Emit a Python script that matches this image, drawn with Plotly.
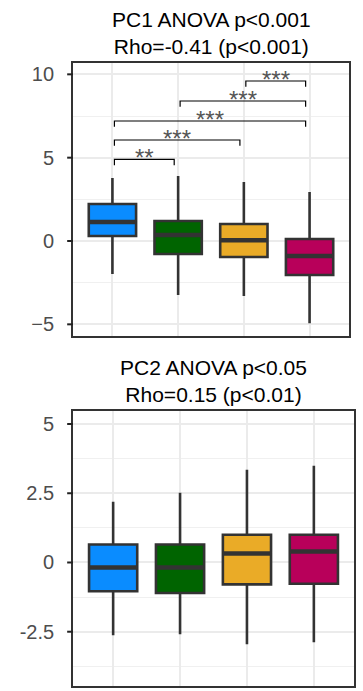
import plotly.graph_objects as go

W, H = 363, 691

groups = [1, 2, 3, 4]
colors = ["#0A8CFF", "#006400", "#EAAB27", "#B8005A"]

# PC1 box statistics
pc1_lower = [-1.98, -3.24, -3.30, -4.94]
pc1_q1 = [0.30, -0.78, -0.96, -2.04]
pc1_median = [1.14, 0.36, 0.04, -0.90]
pc1_q3 = [2.22, 1.20, 1.02, 0.12]
pc1_upper = [3.78, 3.90, 3.54, 2.94]

# PC2 box statistics
pc2_lower = [-2.63, -2.59, -2.95, -2.88]
pc2_q1 = [-1.04, -1.10, -0.79, -0.77]
pc2_median = [-0.18, -0.18, 0.32, 0.40]
pc2_q3 = [0.65, 0.65, 1.00, 1.00]
pc2_upper = [2.19, 2.52, 3.35, 3.49]

# significance brackets (PC1)
sig_pairs = [(1, 2), (1, 3), (1, 4), (2, 4), (3, 4)]
sig_y = [4.90, 6.06, 7.20, 8.40, 9.60]
sig_labels = ["**", "***", "***", "***", "***"]

pc1_ticks = [-5, 0, 5, 10]
pc1_ticktext = ["\u22125", "0", "5", "10"]
pc2_ticks = [-2.5, 0, 2.5, 5]
pc2_ticktext = ["-2.5", "0", "2.5", "5"]

title1 = "PC1 ANOVA p&lt;0.001<br>Rho=-0.41 (p&lt;0.001)"
title2 = "PC2 ANOVA p&lt;0.05<br>Rho=0.15 (p&lt;0.01)"

FONT = "Liberation Sans, Arial, Helvetica, sans-serif"
BOXW = 0.72

fig = go.Figure()

panels = [
    ("x", "y", pc1_lower, pc1_q1, pc1_median, pc1_q3, pc1_upper),
    ("x2", "y2", pc2_lower, pc2_q1, pc2_median, pc2_q3, pc2_upper),
]
for xa, ya, lo, q1, med, q3, up in panels:
    for i, g in enumerate(groups):
        fig.add_trace(go.Box(
            x=[g], q1=[q1[i]], median=[med[i]], q3=[q3[i]],
            lowerfence=[lo[i]], upperfence=[up[i]],
            fillcolor=colors[i], line=dict(color="#333333", width=2.6),
            width=BOXW, whiskerwidth=0, boxpoints=False,
            xaxis=xa, yaxis=ya, showlegend=False, hoverinfo="skip",
        ))
        fig.add_trace(go.Scatter(
            x=[g - BOXW / 2, g + BOXW / 2], y=[med[i], med[i]],
            mode="lines", line=dict(color="#333333", width=4.5),
            xaxis=xa, yaxis=ya, showlegend=False, hoverinfo="skip",
        ))

leg = 0.35
for (a, b), yv, lab in zip(sig_pairs, sig_y, sig_labels):
    x1, x2 = a + 0.03, b - 0.06
    fig.add_shape(type="path",
                  path=f"M {x1},{yv - leg} L {x1},{yv} L {x2},{yv} L {x2},{yv - leg}",
                  xref="x", yref="y", line=dict(color="black", width=1.2))
    fig.add_annotation(x=(x1 + x2) / 2, y=yv, xref="x", yref="y", text=lab,
                       showarrow=False, yanchor="middle", yshift=2,
                       font=dict(family=FONT, size=24, color="#555555"))

TICKLEN_VIS = 5

def xaxis_style(domain, anchor):
    return dict(domain=domain, anchor=anchor, range=[0.4, 4.6],
                tickvals=groups, showticklabels=False, ticks="",
                showgrid=True, gridcolor="#ebebeb", gridwidth=1.6,
                zeroline=False, showline=True, mirror=True,
                linecolor="#333333", linewidth=1.8)

def yaxis_style(domain, anchor, rng, tv, tt, mdt):
    return dict(domain=domain, anchor=anchor, range=rng,
                tickvals=tv, ticktext=tt,
                ticks="outside", ticklen=13,
                tickwidth=2, tickcolor="rgba(0,0,0,0)",
                tickfont=dict(family=FONT, size=20, color="#4d4d4d"),
                showgrid=True, gridcolor="#ebebeb", gridwidth=1.6,
                minor=dict(dtick=mdt, tick0=0, showgrid=True,
                           gridcolor="#f0f0f0", gridwidth=1, ticks=""),
                zeroline=False, showline=True, mirror=True,
                linecolor="#333333", linewidth=1.8)

xdom1 = [73 / W, 349 / W]
xdom2 = [73 / W, 354 / W]

# visible short tick marks
for xr, yr, tv, dom in [("x domain", "y", pc1_ticks, xdom1),
                         ("x2 domain", "y2", pc2_ticks, xdom2)]:
    frac = TICKLEN_VIS / ((dom[1] - dom[0]) * W)
    for t in tv:
        fig.add_shape(type="line", xref=xr, yref=yr, x0=-frac - 0.003, x1=0,
                      y0=t, y1=t, line=dict(color="#222222", width=2))

fig.update_layout(
    width=W, height=H,
    margin=dict(l=0, r=0, t=0, b=0),
    paper_bgcolor="white", plot_bgcolor="white",
    font=dict(family=FONT),
    xaxis=xaxis_style(xdom1, "y"),
    yaxis=yaxis_style([1 - 336 / H, 1 - 63 / H], "x", [-5.7, 10.68],
                      pc1_ticks, pc1_ticktext, 2.5),
    xaxis2=xaxis_style(xdom2, "y2"),
    yaxis2=yaxis_style([1 - 686 / H, 1 - 411 / H], "x2", [-4.46, 5.47],
                       pc2_ticks, pc2_ticktext, 1.25),
)

fig.add_annotation(x=(73 + 349) / 2 / W, y=1 - 33 / H, xref="paper", yref="paper",
                   text=title1, showarrow=False, yanchor="middle",
                   font=dict(family=FONT, size=21, color="black"))
fig.add_annotation(x=(73 + 354) / 2 / W, y=1 - 381 / H, xref="paper", yref="paper",
                   text=title2, showarrow=False, yanchor="middle",
                   font=dict(family=FONT, size=21, color="black"))

fig.write_html("out.html")
